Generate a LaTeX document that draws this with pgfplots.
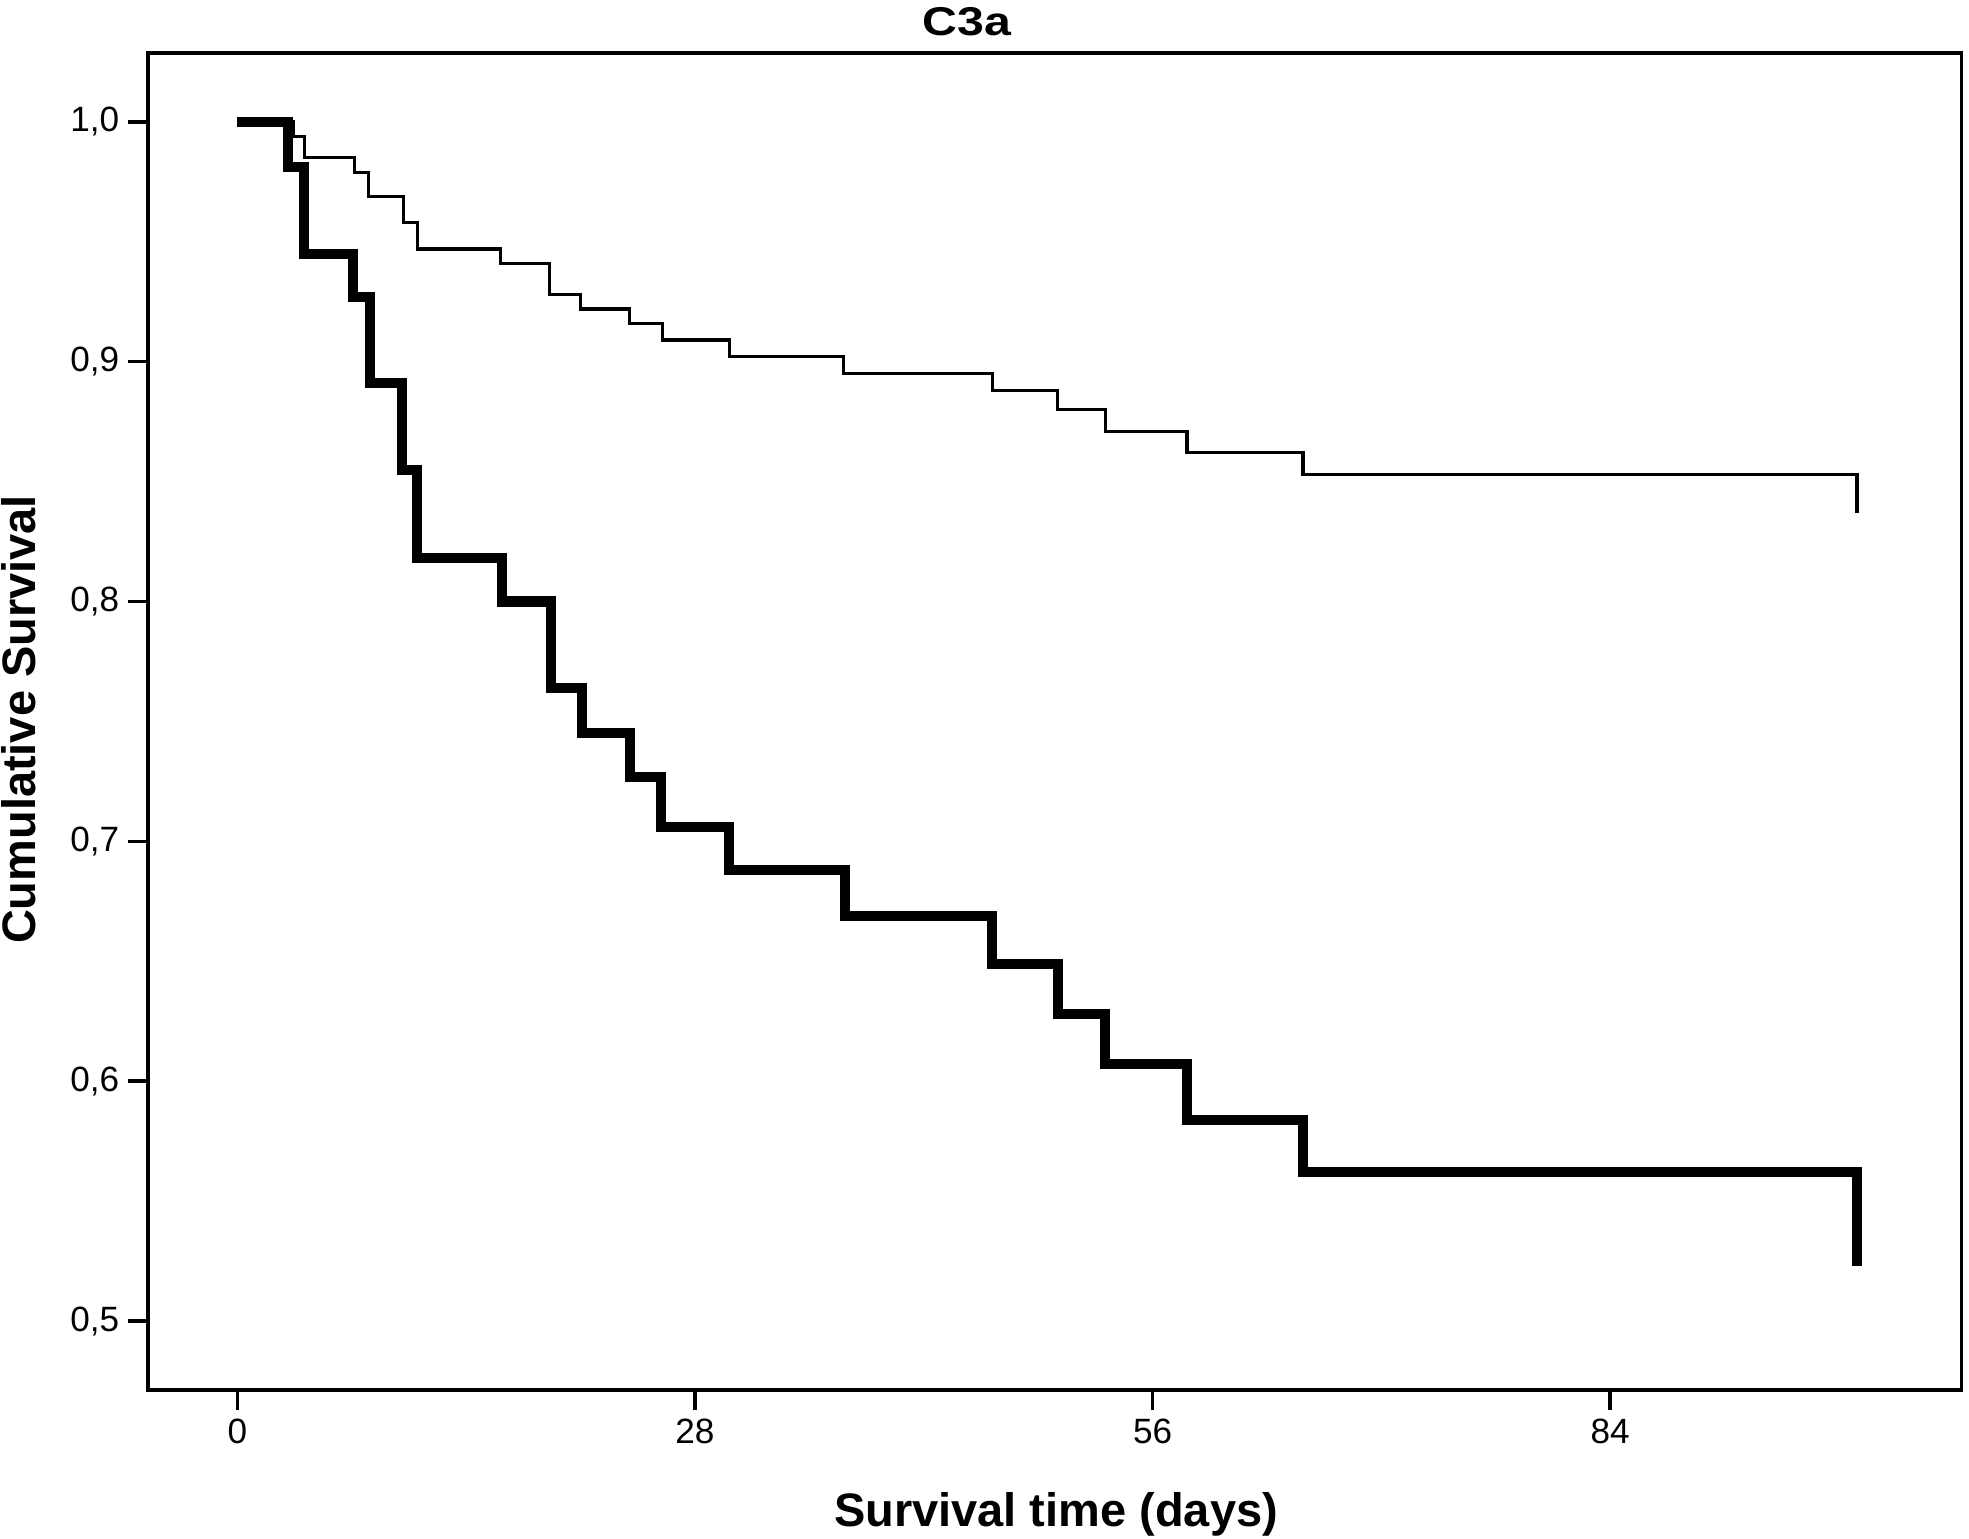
\documentclass[border=0pt]{standalone}
\usepackage{pgfplots}
\pgfplotsset{compat=1.18}
\usepackage{fontspec}
\setmainfont{Liberation Sans}
\begin{document}
\begin{tikzpicture}
\useasboundingbox (0,0) rectangle (784pt,612.5pt);
\begin{axis}[
  at={(59pt,59pt)}, anchor=south west,
  scale only axis, width=722pt, height=532.5pt,
  xmin=-5.46, xmax=105.5, ymin=0.4712, ymax=1.0288,
  xtick={0,28,56,84},
  ytick={0.5,0.6,0.7,0.8,0.9,1.0},
  tick pos=left,
  tick align=outside,
  major tick length=8pt,
  tick style={line width=1.4pt, black},
  axis line style={line width=1.5pt},
  /pgf/number format/assume math mode=true,
  yticklabel style={/pgf/number format/.cd, fixed, fixed zerofill, precision=1, use comma},
  ticklabel style={font=\fontsize{14}{16}\selectfont},
  clip=false,
]
% thin curve
\addplot[const plot, black, line width=1.3pt, line join=miter] coordinates {
(0,1.0) (3.4,0.994) (4.1,0.985) (7.15,0.979) (8.0,0.969) (10.15,0.958)
(11.0,0.947) (16.1,0.941) (19.1,0.928) (21.0,0.922) (24.0,0.916)
(26.0,0.909) (30.1,0.902) (37.1,0.895) (46.2,0.888) (50.2,0.880)
(53.1,0.871) (58.1,0.862) (65.2,0.853) (99.1,0.837)
};
% thick curve
\addplot[const plot, black, line width=4pt, line join=miter] coordinates {
(0,1.0) (3.1,0.981) (4.1,0.945) (7.1,0.927) (8.1,0.891) (10.1,0.855)
(11.0,0.818) (16.2,0.800) (19.2,0.764) (21.1,0.745) (24.0,0.727)
(25.9,0.706) (30.1,0.688) (37.2,0.669) (46.2,0.649) (50.2,0.628)
(53.1,0.607) (58.1,0.584) (65.2,0.562) (99.1,0.523)
};
\end{axis}
\node[anchor=base, font=\fontsize{16}{18}\selectfont\bfseries] at (385pt,598.5pt) {\scalebox{1.2}[1]{C3a}};
\node[anchor=base, font=\fontsize{18.7}{20}\selectfont\bfseries] at (420.5pt,4.6pt) {Survival time (days)};
\node[anchor=base, rotate=90, font=\fontsize{18.7}{20}\selectfont\bfseries] at (14pt,326pt) {Cumulative Survival};
\end{tikzpicture}
\end{document}
